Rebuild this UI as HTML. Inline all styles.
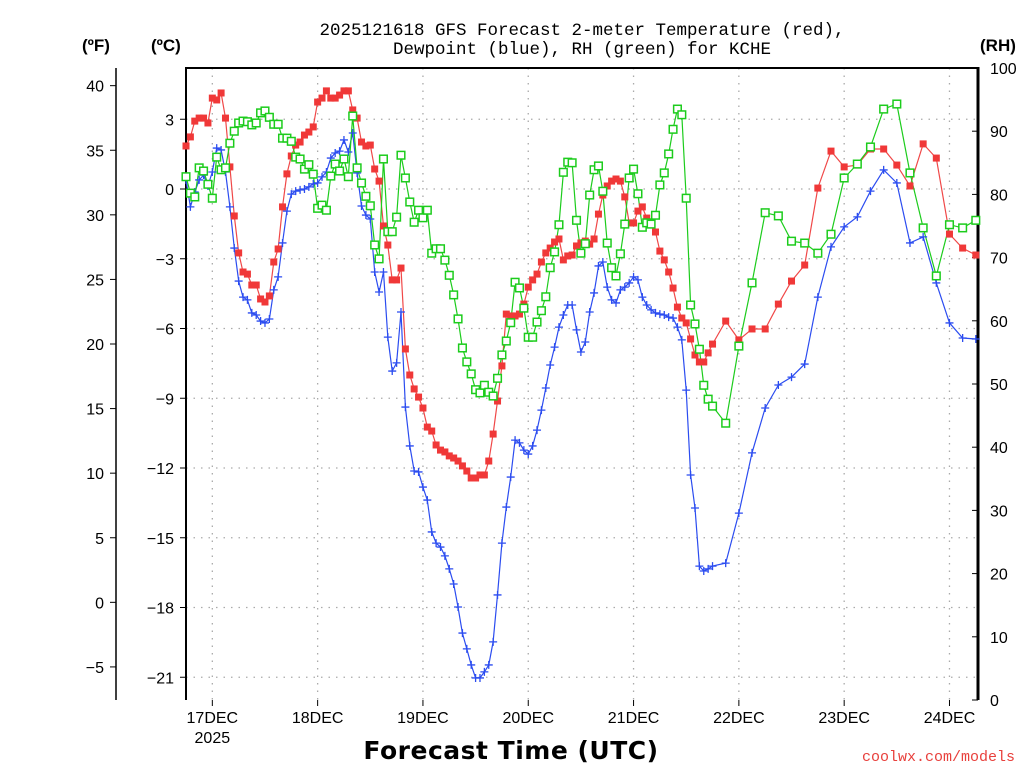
<!DOCTYPE html>
<html><head><meta charset="utf-8"><style>
html,body{margin:0;padding:0;background:#fff;}
svg{display:block;}
text{font-family:"Liberation Sans",sans-serif;}
</style></head><body>
<svg id="chart" width="1024" height="768" viewBox="0 0 1024 768" xmlns="http://www.w3.org/2000/svg">
<g id="grid"></g>
<g id="axes"></g>
<g id="series"></g>
<text x="582" y="35" text-anchor="middle" font-size="17.5" style="font-family:'Liberation Mono',monospace">2025121618 GFS Forecast 2-meter Temperature (red),</text>
<text x="582" y="54" text-anchor="middle" font-size="17.5" style="font-family:'Liberation Mono',monospace">Dewpoint (blue), RH (green) for KCHE</text>
<text x="82" y="51" font-size="17" font-weight="bold">(ºF)</text>
<text x="151" y="51" font-size="17" font-weight="bold">(ºC)</text>
<text x="980" y="51" font-size="17" font-weight="bold">(RH)</text>
<text x="511" y="759" text-anchor="middle" font-size="25" font-weight="bold" letter-spacing="0.5" style="font-family:'DejaVu Sans',sans-serif">Forecast Time (UTC)</text>
<text x="1015" y="761" text-anchor="end" font-size="15" fill="#e8403c" style="font-family:'Liberation Mono',monospace">coolwx.com/models</text>
</svg>
<script>
var temps = [1.85,2.24,2.92,3.05,3.05,2.84,3.91,3.83,4.13,3.05,0.95,-1.16,-2.75,-3.57,-3.66,-4.13,-4.13,-4.73,-4.86,-4.6,-3.14,-2.58,-0.77,0.65,1.42,1.89,2.02,2.32,2.45,2.67,3.74,3.91,4.22,3.91,3.91,4.04,4.22,4.22,3.4,3.05,2.02,1.85,1.89,0.86,0.34,-1.59,-2.41,-3.91,-3.91,-3.4,-6.88,-8.0,-8.6,-8.95,-9.42,-10.24,-10.41,-11.01,-11.23,-11.31,-11.48,-11.57,-11.7,-11.91,-12.13,-12.43,-12.43,-12.3,-12.3,-11.7,-10.54,-9.12,-7.61,-5.38,-5.46,-5.46,-5.38,-4.95,-4.22,-3.91,-3.66,-3.14,-2.75,-2.54,-2.28,-2.15,-3.05,-2.88,-2.84,-2.45,-2.32,-2.24,-2.37,-2.15,-1.08,-0.26,0.13,0.34,0.43,0.34,-0.34,-1.46,-1.46,-0.95,-0.77,-1.25,-1.55,-1.85,-2.67,-3.05,-3.57,-4.26,-5.08,-5.55,-5.76,-6.45,-7.14,-7.44,-7.44,-7.05,-6.67,
-5.68,-6.49,-6.02,-6.02,-4.95,-3.96,-3.27,0.04,1.63,0.95,1.03,1.72,1.72,1.03,0.13,1.94,1.33,-1.94,-2.54,-2.84];
var dewpoints = [0.39,-0.77,-0.13,0.39,0.6,0.13,0.73,1.76,1.68,0.73,-0.77,-2.54,-3.96,-4.65,-4.77,-5.33,-5.42,-5.68,-5.76,-5.59,-4.34,-3.78,-2.32,-0.95,-0.22,-0.09,-0.04,0,0.09,0.22,0.26,0.52,0.73,1.33,1.55,1.63,2.11,1.59,2.41,0.69,-0.73,-1.12,-1.29,-3.57,-4.43,-3.57,-6.37,-7.83,-7.48,-5.29,-9.38,-11.05,-12.13,-12.17,-12.82,-13.38,-14.75,-15.23,-15.4,-15.78,-16.34,-16.99,-17.98,-19.1,-19.78,-20.47,-21.03,-21.03,-20.77,-20.47,-19.48,-17.46,-15.23,-13.68,-12.39,-10.8,-10.92,-11.23,-11.4,-11.05,-10.37,-9.51,-8.56,-7.57,-6.8,-5.94,-5.42,-4.99,-4.99,-6.06,-7.01,-6.58,-5.29,-4.47,-3.31,-3.14,-4.22,-4.77,-4.9,-4.34,-4.22,-4.04,-3.78,-3.91,-4.65,-4.99,-5.2,-5.33,-5.38,-5.42,-5.51,-5.55,-5.94,-6.49,-8.65,-12.3,-13.72,-16.22,-16.43,-16.34,-16.22,
-16.09,-13.94,-11.35,-9.42,-8.43,-8.09,-7.53,-4.65,-2.49,-1.63,-1.2,-0.09,0.82,0.26,-2.32,-2.06,-4.04,-5.76,-6.41,-6.45];
var rhValues = [82.8,80.2,79.6,84.2,83.7,81.6,79.4,85.9,83.9,84.2,88.1,90.0,91.3,91.6,91.5,91.0,91.3,92.9,93.2,92.2,91.1,91.1,88.9,88.9,88.4,85.9,85.6,84.0,84.7,83.2,77.8,78.3,77.5,82.9,84.8,83.7,85.6,82.8,92.4,84.2,81.8,79.7,78.2,72.0,69.8,85.6,74.1,74.1,76.4,86.2,82.6,78.8,75.6,77.5,76.3,77.5,70.7,71.4,71.4,69.6,67.2,64.1,60.3,55.7,53.5,51.6,49.1,48.6,49.8,48.7,48.1,50.9,54.6,56.8,59.7,66.1,65.2,62.0,57.4,57.4,59.8,61.6,63.8,68.4,70.9,75.2,83.5,85.1,85.0,75.9,70.7,72.2,79.9,83.9,84.5,80.5,72.3,68.4,67.1,70.6,75.3,82.6,84.0,80.1,74.8,75.5,75.3,76.7,81.5,83.4,86.4,90.3,93.5,92.6,79.4,62.5,59.5,55.5,49.8,47.6,46.5,
43.8,56.0,66.0,77.1,76.6,72.6,72.3,70.7,73.7,82.6,84.8,87.5,93.5,94.3,83.4,74.7,67.1,75.2,74.7,75.9];
var celsiusTicks = [3,0,-3,-6,-9,-12,-15,-18,-21];
var fahrenheitTicks = [40,35,30,25,20,15,10,5,0,-5];
var rhTicks = [0,10,20,30,40,50,60,70,80,90,100];
var dayLabels = ["17DEC","18DEC","19DEC","20DEC","21DEC","22DEC","23DEC","24DEC"];

var NS="http://www.w3.org/2000/svg";
var L=186,R=978,T=68,B=700;
var hours=[];for(var h=0;h<=120;h++)hours.push(h);for(var h2=123;h2<=180;h2+=3)hours.push(h2);
function xH(h){return L+(R-L)*h/180.5;}
function yC(c){return 189-c*23.25;}
function yF(f){return yC((f-32)*5/9);}
function yRH(r){return B-(B-T)*r/100;}
function mk(tag,attrs,parent){var e=document.createElementNS(NS,tag);for(var k in attrs)e.setAttribute(k,attrs[k]);parent.appendChild(e);return e;}
var grid=document.getElementById('grid'),axes=document.getElementById('axes'),series=document.getElementById('series');
celsiusTicks.forEach(function(c){var l=mk('line',{x1:L,x2:R,y1:yC(c),y2:yC(c),stroke:'#aaa','stroke-width':1.3,'stroke-dasharray':'1.5,6'},grid);

});
dayLabels.forEach(function(d,i){var x=xH(6+24*i);var l=mk('line',{x1:x,x2:x,y1:T,y2:B,stroke:'#aaa','stroke-width':1.3,'stroke-dasharray':'1.5,6'},grid);


var t=mk('text',{x:x,y:723,'text-anchor':'middle','font-size':16},axes);t.textContent=d;


var tk=mk('line',{x1:x,x2:x,y1:B,y2:B+6,stroke:'#000','stroke-width':1},axes);

});
var yr=mk('text',{x:xH(6),y:743,'text-anchor':'middle','font-size':16},axes);yr.textContent='2025';


var fr=mk('path',{d:'M'+L+','+B+'V'+T+'H'+R,fill:'none',stroke:'#000','stroke-width':2},axes);


var ra=mk('line',{x1:R,x2:R,y1:T-1,y2:B,stroke:'#000','stroke-width':3},axes);


var fa=mk('line',{x1:116,x2:116,y1:T,y2:B,stroke:'#000','stroke-width':1.5},axes);


celsiusTicks.forEach(function(c){var y=yC(c);var tk=mk('line',{x1:L-6,x2:L,y1:y,y2:y,stroke:'#000'},axes);


var t=mk('text',{x:L-12,y:y+6,'text-anchor':'end','font-size':16},axes);t.textContent=(c<0?'\u2212'+(-c):c);

});
fahrenheitTicks.forEach(function(f){var y=yF(f);var tk=mk('line',{x1:110,x2:116,y1:y,y2:y,stroke:'#000'},axes);


var t=mk('text',{x:104,y:y+6,'text-anchor':'end','font-size':16},axes);t.textContent=(f<0?'\u2212'+(-f):f);

});
rhTicks.forEach(function(r){var y=yRH(r);var tk=mk('line',{x1:R-6,x2:R,y1:y,y2:y,stroke:'#000'},axes);


var t=mk('text',{x:990,y:y+6,'font-size':16},axes);t.textContent=r;

});
function line(vals,yf,color,name){var d='';vals.forEach(function(v,i){d+=(i?'L':'M')+xH(hours[i]).toFixed(1)+','+yf(v).toFixed(1);});
var p=mk('path',{d:d,fill:'none',stroke:color,'stroke-width':1.2},series);

}
line(dewpoints,yC,'#2b4cf0','dewpoint-line');
line(temps,yC,'#f04848','temperature-line');
line(rhValues,yRH,'#1ccc1c','rh-line');
dewpoints.forEach(function(v,i){var x=xH(hours[i]),y=yC(v);var p=mk('path',{d:'M'+(x-4)+','+y+'H'+(x+4)+'M'+x+','+(y-4)+'V'+(y+4),stroke:'#2b4cf0','stroke-width':1.3},series);

});
temps.forEach(function(v,i){var x=xH(hours[i]),y=yC(v);var p=mk('rect',{x:x-3.5,y:y-3.5,width:7,height:7,fill:'#f03838'},series);

});
rhValues.forEach(function(v,i){var x=xH(hours[i]),y=yRH(v);var p=mk('rect',{x:x-3.8,y:y-3.8,width:7.6,height:7.6,fill:'#fff',stroke:'#1ccc1c','stroke-width':1.5},series);

});
</script>
</body></html>
